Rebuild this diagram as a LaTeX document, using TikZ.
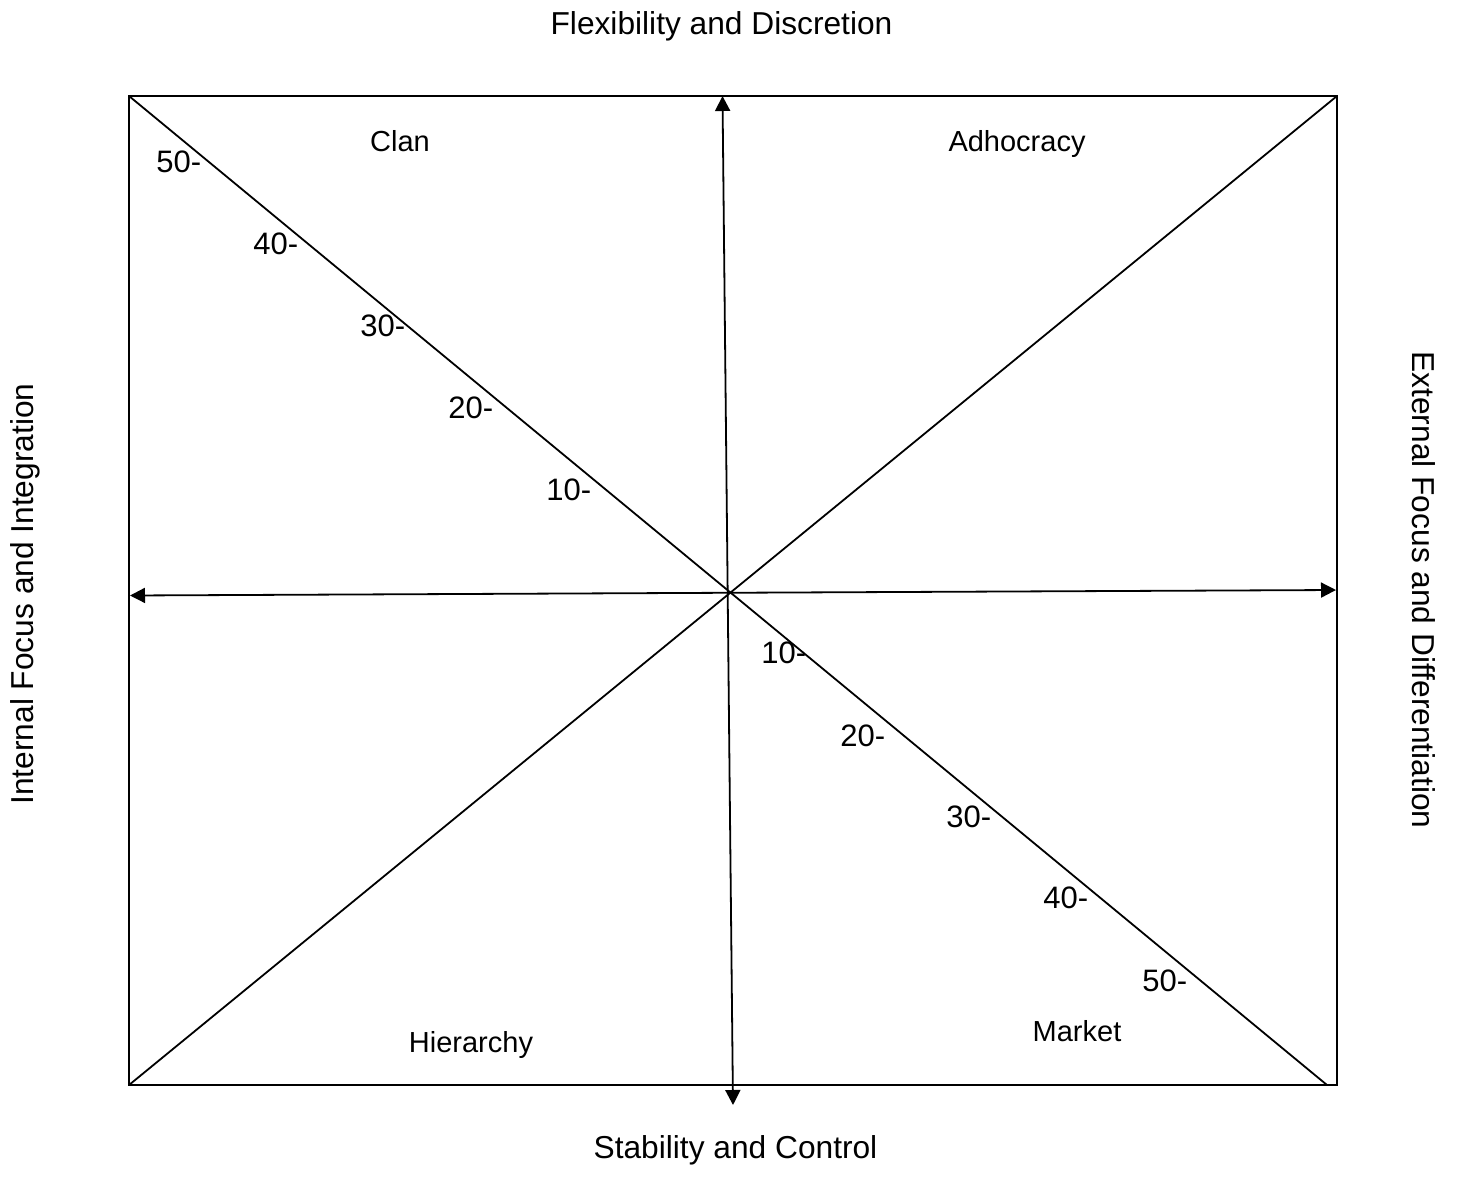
\documentclass[tikz,border=0pt]{standalone}
\usepackage{fontspec}
\setmainfont{Liberation Sans}
\usetikzlibrary{arrows.meta}

\begin{document}
\begin{tikzpicture}[x=1pt, y=-1pt, line width=1.8pt,
  twoway/.style={{Triangle[length=15pt,width=15pt]}-{Triangle[length=15pt,width=15pt]}},
  scorelabel/.style={anchor=east, inner sep=0pt, font=\fontsize{31}{36}\selectfont},
  quadlabel/.style={font=\fontsize{29}{34}\selectfont},
  axislabel/.style={font=\fontsize{31.7}{37}\selectfont}]
  \useasboundingbox (0,0) rectangle (1461,1199);
  % frame
  \coordinate (nw) at (129,96);
  \coordinate (ne) at (1337,96);
  \coordinate (sw) at (129,1085);
  \coordinate (se) at (1337,1085);
  \draw[line width=2.6pt] (nw) rectangle (se);
  % axes
  \coordinate (top) at (722.5,96);
  \coordinate (bottom) at (733,1105);
  \coordinate (left) at (130,595.5);
  \coordinate (right) at (1336,590);
  \draw[twoway] (bottom) -- (top);
  \draw[twoway] (left) -- (right);
  % diagonals
  \coordinate (mk) at (1327,1085);
  \draw (nw) -- (mk);
  \draw (sw) -- (ne);
  % scale marks
  \foreach \v/\x/\y in {50/202/162, 40/299/244, 30/406/326, 20/494/408, 10/592/490}
    \node[scorelabel] (up\v) at (\x,\y) {\v-};
  \foreach \v/\x/\y in {10/807/653, 20/886/736, 30/992/817, 40/1089/898, 50/1188/981}
    \node[scorelabel] (dn\v) at (\x,\y) {\v-};
  % quadrants
  \node[quadlabel] (clan) at (400,141) {Clan};
  \node[quadlabel] (adhoc) at (1017,144) {Adhocracy};
  \node[quadlabel] (hier) at (471,1045) {Hierarchy};
  \node[quadlabel] (market) at (1077,1031) {Market};
  % axis labels
  \node[axislabel] (flex) at (721.5,26) {Flexibility and Discretion};
  \node[axislabel] (stab) at (735.5,1150) {Stability and Control};
  \node[axislabel, rotate=90] (internal) at (25,594) {Internal Focus and Integration};
  \node[axislabel, rotate=-90] (external) at (1424,590) {External Focus and Differentiation};
\end{tikzpicture}
\end{document}
